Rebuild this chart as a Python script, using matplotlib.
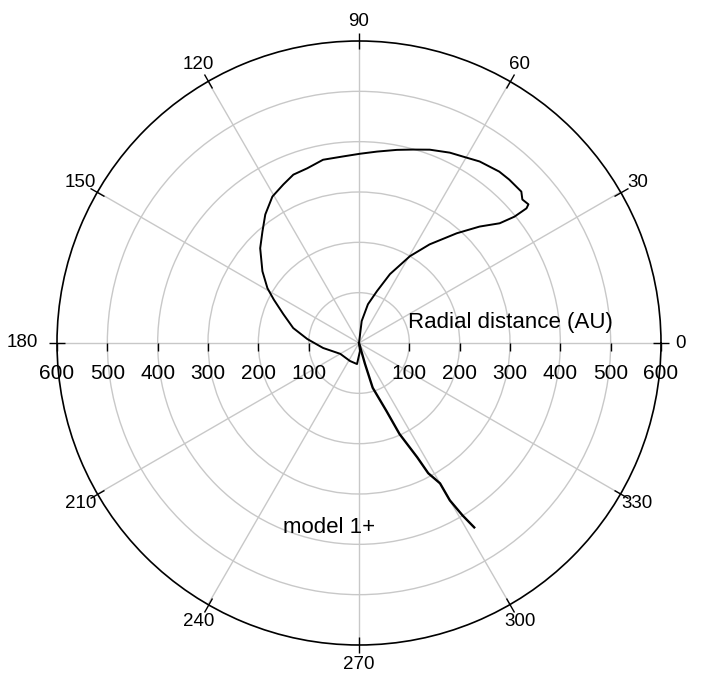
import numpy as np
import matplotlib.pyplot as plt

plt.rcParams['font.family'] = ['Liberation Sans', 'DejaVu Sans']

# trajectory, angle in degrees and radial distance in AU
# outbound branch (origin -> lower right)
tail_theta = [0, 286, 287, 292, 294, 297, 298, 300, 300, 301, 302]
tail_r = [0, 43, 93, 146, 198, 255, 293, 322, 361, 400, 432]

# loop branch (origin -> upper right -> left -> back to origin)
loop_theta = [0, 83, 77, 70.9, 65.8, 59.6, 54.4, 48.3, 44.0, 40.4, 39.1, 38.8,
              39.3, 41.3, 43.0, 47.4, 50.7, 56.4, 60.9, 64.5, 69.9, 74.4, 78.9,
              84.6, 89.7, 94.9, 101.1, 106.5, 111.3, 115.5, 120.6, 126.1, 130.9,
              136.2, 143.4, 149.1, 153.0, 159.1, 167.2, 175.6, 187.9, 210, 243.4,
              264.6, 277, 0]
loop_r = [0, 44, 79, 109, 150, 200, 241, 292, 333, 367, 398, 427,
          435, 432, 441, 441, 440, 433, 424, 419, 409, 399, 391,
          382, 376, 372, 371, 362, 359, 349, 338, 316, 293,
          272, 239, 212, 190, 161, 134, 103, 72, 43, 40,
          42, 16, 0]

angle_ticks = list(range(0, 360, 30))
ring_ticks = [100, 200, 300, 400, 500]
axis_ticks = [-600, -500, -400, -300, -200, -100, 100, 200, 300, 400, 500, 600]

fig = plt.figure(figsize=(7.03, 6.81), dpi=100)
rect = [57 / 703, 36 / 681, 604 / 703, 604 / 681]
ax = fig.add_axes(rect, projection='polar')

ax.plot(np.radians(tail_theta), tail_r, color='black', lw=1.7)
ax.plot(np.radians(loop_theta), loop_r, color='black', lw=1.4)

ax.set_ylim(0, 600)
ax.set_thetagrids(angle_ticks, [str(a) for a in angle_ticks], fontsize=13.5)
ax.set_rgrids(ring_ticks, labels=[''] * len(ring_ticks))
ax.grid(True, color='#c8c8c8', lw=1)
ax.spines['polar'].set_color('black')
ax.spines['polar'].set_linewidth(1.2)
ax.tick_params(axis='x', which='major', bottom=False, top=True,
               direction='inout', length=6, width=1, colors='black', pad=4)
for lbl in ax.get_xticklabels():
    if lbl.get_text() == '180':
        lbl.set_horizontalalignment('right')

# cartesian overlay for the radial scale along the 0-180 line
ax2 = fig.add_axes(rect)
ax2.set_xlim(-600, 600)
ax2.set_ylim(-600, 600)
ax2.patch.set_visible(False)
for s in ['left', 'right', 'top']:
    ax2.spines[s].set_visible(False)
ax2.spines['bottom'].set_position(('data', 0))
ax2.spines['bottom'].set_visible(False)
ax2.set_yticks([])
ax2.set_xticks(axis_ticks)
ax2.set_xticklabels([str(abs(v)) for v in axis_ticks])
ax2.tick_params(axis='x', direction='out', length=6, width=1, labelsize=15, pad=9)

ax2.text(97, 30, 'Radial distance (AU)', fontsize=16, ha='left', va='baseline')
ax2.text(-151, -378, 'model 1+', fontsize=16, ha='left', va='baseline')

fig.savefig('out.png', dpi=100)
